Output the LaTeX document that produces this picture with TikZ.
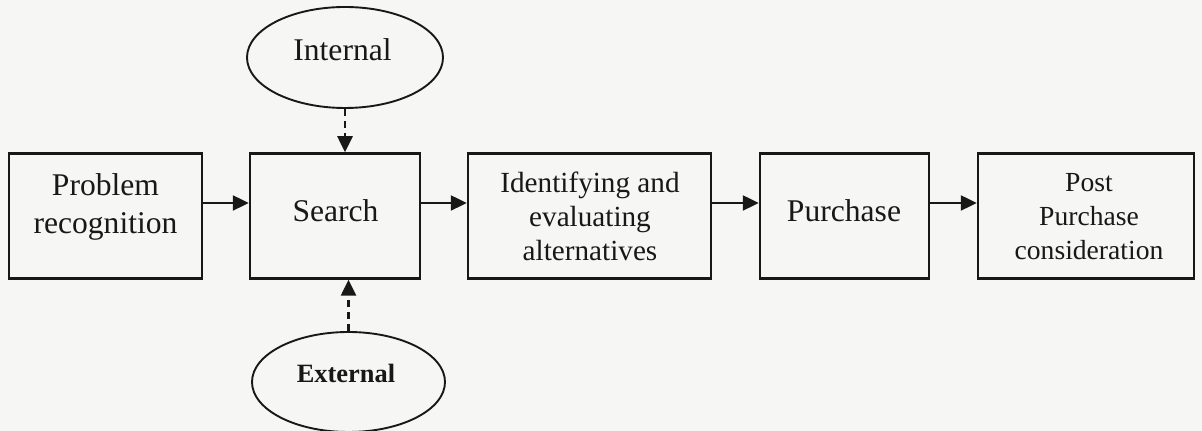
\documentclass[tikz,border=0pt]{standalone}
\usepackage{fontspec}
\setmainfont{Liberation Serif}
\usetikzlibrary{arrows.meta,shapes.geometric}
\definecolor{paper}{RGB}{246,246,244}
\definecolor{ink}{RGB}{24,24,24}
\begin{document}
\begin{tikzpicture}[x=0.5pt,y=-0.5pt,
  stagebox/.style={draw=ink,line width=1.25pt,minimum height=62.5pt,inner sep=0pt},
  source/.style={ellipse,draw=ink,line width=0.95pt,inner sep=0pt},
  bigtxt/.style={text=ink,align=center,font=\fontsize{15.8}{19}\selectfont},
  midtxt/.style={text=ink,align=center,font=\fontsize{14.6}{17}\selectfont},
  smalltxt/.style={text=ink,align=center,font=\fontsize{13.8}{17}\selectfont},
  head/.style={-{Triangle[length=8pt,width=7.5pt]}},
  flow/.style={draw=ink,line width=1.2pt,head},
  feed/.style={draw=ink,line width=1.3pt,dash pattern=on 3.5pt off 2.5pt,head}]
  % page
  \fill[paper] (0,0) rectangle (1202,431);
  \useasboundingbox (0,0) rectangle (1202,431);

  % stages of the decision process
  \node[stagebox,minimum width=96.5pt] (prob)   at (105.5,216) {};
  \node[stagebox,minimum width=85pt]   (search) at (335,216)   {};
  \node[stagebox,minimum width=121.5pt](ident)  at (589.5,216) {};
  \node[stagebox,minimum width=84.5pt] (purch)  at (844.5,216) {};
  \node[stagebox,minimum width=108pt]  (post)   at (1086,216)  {};

  \node[bigtxt]   (probT)   at (105.5,206.5) {Problem\\recognition};
  \node[bigtxt,anchor=base]   (searchT) at (335.5,222) {Search};
  \node[midtxt]   (identT)  at (590,216)     {Identifying and\\evaluating\\alternatives};
  \node[bigtxt,anchor=base]   (purchT)  at (844,222)   {Purchase};
  \node[smalltxt] (postT)   at (1089,216.5)  {Post\\Purchase\\consideration};

  % information sources
  \node[source,minimum width=98pt,minimum height=50.5pt] (int) at (345,57.5) {};
  \node[source,minimum width=96.5pt,minimum height=50pt] (ext) at (348.5,382) {};
  \node[bigtxt,anchor=base] (intT) at (342.5,61) {Internal};
  \node[text=ink,anchor=base,font=\fontsize{13.2}{16}\selectfont\bfseries] (extT) at (346,383) {External};

  % main flow
  \draw[flow] ([yshift=6.5pt]prob.east)   -- ([yshift=6.5pt]search.west);
  \draw[flow] ([yshift=6.5pt]search.east) -- ([yshift=6.5pt]ident.west);
  \draw[flow] ([yshift=6.5pt]ident.east)  -- ([yshift=6.5pt]purch.west);
  \draw[flow] ([yshift=6.5pt]purch.east)  -- ([yshift=6.5pt]post.west);

  % search inputs
  \draw[feed] (int.south) -- (int.south |- search.north);
  \draw[feed] (ext.north) -- (ext.north |- search.south);
\end{tikzpicture}
\end{document}
